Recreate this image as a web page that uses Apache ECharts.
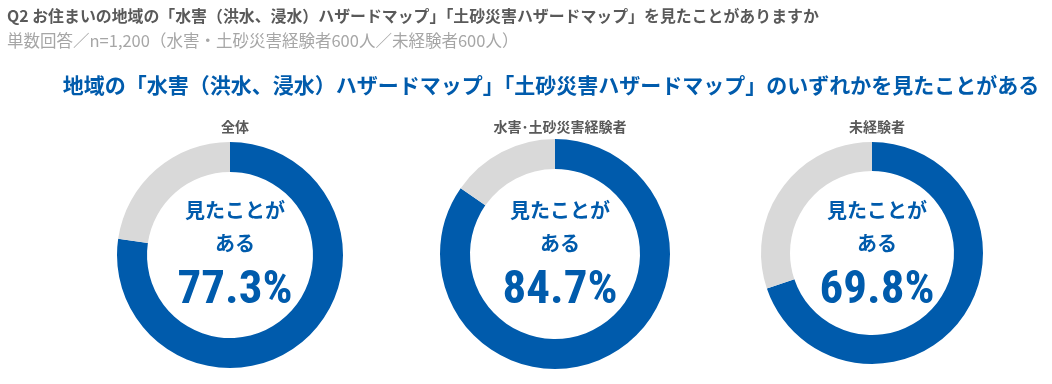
<!DOCTYPE html>
<html><head><meta charset="utf-8">
<script src="https://cdn.jsdelivr.net/npm/echarts@6/dist/echarts.min.js"></script>
<style>html,body{margin:0;padding:0;background:#fff}#c{width:1052px;height:384px}</style>
</head><body><div id="c"></div>
<script>
const groups = ['全体', '水害･土砂災害経験者', '未経験者'];
const seenValues = [77.3, 84.7, 69.8];
const centerLabel = ['見たことが', 'ある'];
const mainTitle = 'Q2 お住まいの地域の「水害（洪水、浸水）ハザードマップ」「土砂災害ハザードマップ」を見たことがありますか';
const subTitle = '単数回答／n=1,200（水害・土砂災害経験者600人／未経験者600人）';
const headline = '地域の「水害（洪水、浸水）ハザードマップ」「土砂災害ハザードマップ」のいずれかを見たことがある';

const BLUE = '#005bac', GRAY = '#d9d9d9';
const FONT = '"Noto Sans CJK JP", "Noto Sans", sans-serif';
const NUMFONT = '"Liberation Sans Narrow", "Roboto Condensed", Roboto, sans-serif';
const layout = [
  {x: 230, y: 255, r: 113, w: 30},
  {x: 555, y: 254, r: 115, w: 30},
  {x: 872, y: 253, r: 111, w: 29}
];

const titles = [
  {text: mainTitle, left: 2, top: 3, textStyle: {fontFamily: FONT, fontSize: 15.9, fontWeight: 'bold', color: '#595959'}},
  {text: subTitle, left: 2, top: 27, textStyle: {fontFamily: FONT, fontSize: 16.5, fontWeight: 'normal', color: '#a6a6a6'}},
  {text: headline, left: 546, textAlign: 'center', top: 70, textStyle: {fontFamily: FONT, fontSize: 21, fontWeight: 'bold', color: BLUE}}
];
const series = [];
groups.forEach((g, i) => {
  const L = layout[i];
  titles.push({text: g, left: L.x, textAlign: 'center', top: 115, textStyle: {fontFamily: FONT, fontSize: 14, fontWeight: 'bold', color: '#595959'}});
  titles.push({text: centerLabel[0], left: L.x, textAlign: 'center', top: 195, textStyle: {fontFamily: FONT, fontSize: 20, fontWeight: 'bold', color: BLUE}});
  titles.push({text: centerLabel[1], left: L.x, textAlign: 'center', top: 228, textStyle: {fontFamily: FONT, fontSize: 20, fontWeight: 'bold', color: BLUE}});
  titles.push({text: seenValues[i].toFixed(1) + '%', left: L.x, textAlign: 'center', top: 263, textStyle: {fontFamily: NUMFONT, fontSize: 47, fontWeight: 'bold', color: BLUE}});
  series.push({
    type: 'pie', center: [L.x, L.y], radius: [L.r - L.w, L.r], startAngle: 90, clockwise: true,
    silent: true, animation: false, label: {show: false}, labelLine: {show: false},
    data: [
      {value: seenValues[i], name: '見たことがある', itemStyle: {color: BLUE}},
      {value: +(100 - seenValues[i]).toFixed(1), name: 'ない', itemStyle: {color: GRAY}}
    ]
  });
});
const chart = echarts.init(document.getElementById('c'));
chart.setOption({backgroundColor: '#fff', animation: false, title: titles, series: series});
</script></body></html>
